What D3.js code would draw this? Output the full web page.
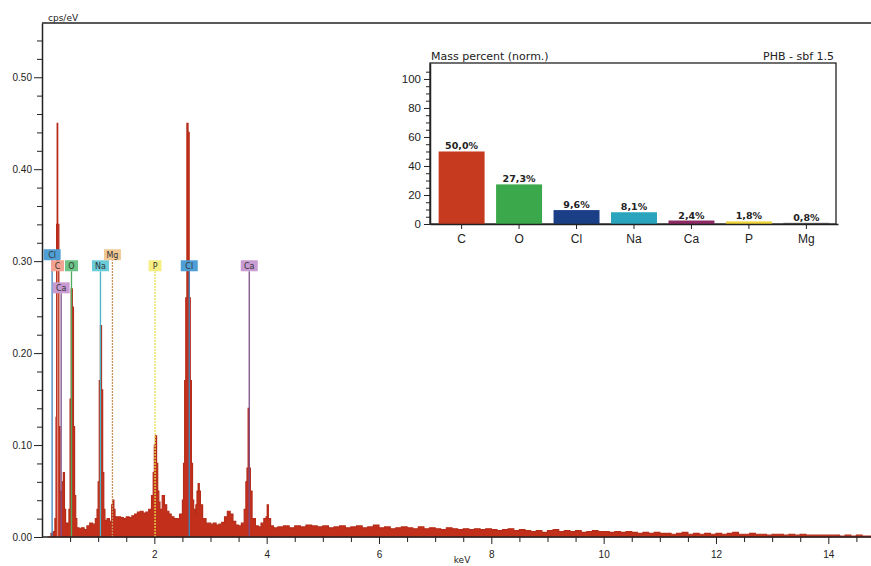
<!DOCTYPE html>
<html>
<head>
<meta charset="utf-8">
<script src="https://cdn.jsdelivr.net/npm/d3@7"></script>
<style>
  body { margin: 0; background: #fff; }
  svg { display: block; font-family: "DejaVu Sans", Verdana, sans-serif; }
  .axis path, .axis line { stroke: #222; }
  .axis text { fill: #222; }
</style>
</head>
<body>
<svg id="chart" width="871" height="566"></svg>
<script>
// spectrum: [keV, cps/eV]
var spectrum = [
  [0.10, 0], [0.16, 0.004], [0.20, 0.006], [0.23, 0.02], [0.25, 0.13], [0.26, 0.34], [0.27, 0.45], [0.28, 0.34],
  [0.30, 0.12], [0.32, 0.05], [0.34, 0.03], [0.36, 0.06], [0.38, 0.07], [0.40, 0.03], [0.42, 0.015],
  [0.44, 0.012], [0.46, 0.015], [0.48, 0.03], [0.50, 0.15], [0.52, 0.27], [0.54, 0.25], [0.56, 0.12],
  [0.58, 0.045], [0.60, 0.02], [0.62, 0.01], [0.66, 0.009], [0.70, 0.01], [0.75, 0.008], [0.80, 0.012],
  [0.85, 0.015], [0.90, 0.014], [0.95, 0.02], [0.98, 0.03], [1.00, 0.06], [1.02, 0.17], [1.04, 0.23],
  [1.06, 0.16], [1.08, 0.07], [1.10, 0.03], [1.12, 0.018], [1.16, 0.02], [1.20, 0.017], [1.24, 0.035],
  [1.26, 0.04], [1.28, 0.03], [1.30, 0.022], [1.35, 0.022], [1.40, 0.021], [1.45, 0.02], [1.50, 0.022],
  [1.55, 0.021], [1.60, 0.023], [1.65, 0.025], [1.70, 0.027], [1.75, 0.028], [1.80, 0.026], [1.85, 0.027],
  [1.90, 0.03], [1.95, 0.045], [1.98, 0.07], [2.00, 0.10], [2.02, 0.11], [2.04, 0.08], [2.06, 0.05],
  [2.08, 0.038], [2.10, 0.03], [2.14, 0.045], [2.18, 0.035], [2.22, 0.028], [2.26, 0.025], [2.30, 0.022],
  [2.35, 0.02], [2.40, 0.02], [2.45, 0.025], [2.50, 0.04], [2.52, 0.08], [2.54, 0.17], [2.56, 0.26],
  [2.58, 0.45], [2.60, 0.44], [2.62, 0.26], [2.64, 0.17], [2.66, 0.08], [2.68, 0.04], [2.70, 0.03],
  [2.72, 0.025], [2.74, 0.035], [2.76, 0.05], [2.78, 0.058], [2.80, 0.05], [2.82, 0.035], [2.86, 0.02],
  [2.92, 0.015], [3.00, 0.014], [3.05, 0.015], [3.10, 0.013], [3.15, 0.014], [3.20, 0.016], [3.25, 0.022],
  [3.30, 0.028], [3.35, 0.025], [3.40, 0.017], [3.45, 0.013], [3.50, 0.012], [3.55, 0.015], [3.60, 0.03],
  [3.63, 0.06], [3.65, 0.075], [3.67, 0.14], [3.69, 0.075], [3.71, 0.05], [3.74, 0.02], [3.80, 0.012],
  [3.85, 0.011], [3.90, 0.015], [3.95, 0.02], [3.99, 0.022], [4.01, 0.035], [4.03, 0.02], [4.07, 0.012],
  [4.12, 0.01], [4.2, 0.011], [4.3, 0.012], [4.4, 0.010], [4.5, 0.012], [4.6, 0.011], [4.7, 0.013],
  [4.8, 0.012], [4.9, 0.011], [5.0, 0.012], [5.1, 0.010], [5.2, 0.011], [5.3, 0.012], [5.4, 0.010],
  [5.5, 0.011], [5.6, 0.012], [5.7, 0.010], [5.8, 0.011], [5.9, 0.013], [6.0, 0.010], [6.1, 0.011],
  [6.2, 0.009], [6.3, 0.010], [6.4, 0.011], [6.5, 0.010], [6.6, 0.009], [6.7, 0.011], [6.8, 0.009],
  [6.9, 0.010], [7.0, 0.009], [7.1, 0.008], [7.2, 0.010], [7.3, 0.009], [7.4, 0.008], [7.5, 0.009],
  [7.6, 0.008], [7.7, 0.009], [7.8, 0.008], [7.9, 0.009], [8.0, 0.008], [8.1, 0.007], [8.2, 0.008],
  [8.3, 0.009], [8.4, 0.007], [8.5, 0.008], [8.6, 0.007], [8.7, 0.006], [8.8, 0.007], [8.9, 0.005],
  [9.0, 0.007], [9.1, 0.008], [9.2, 0.006], [9.3, 0.007], [9.4, 0.006], [9.5, 0.007], [9.6, 0.005],
  [9.7, 0.006], [9.8, 0.007], [9.9, 0.006], [10.0, 0.006], [10.1, 0.005], [10.2, 0.006], [10.3, 0.005],
  [10.4, 0.006], [10.5, 0.005], [10.6, 0.004], [10.7, 0.005], [10.8, 0.004], [10.9, 0.005], [11.0, 0.004],
  [11.1, 0.004], [11.2, 0.003], [11.3, 0.004], [11.4, 0.005], [11.5, 0.003], [11.6, 0.004], [11.7, 0.003],
  [11.8, 0.004], [11.9, 0.003], [12.0, 0.004], [12.1, 0.003], [12.2, 0.004], [12.3, 0.005], [12.4, 0.003],
  [12.5, 0.003], [12.6, 0.004], [12.7, 0.003], [12.8, 0.003], [12.9, 0.002], [13.0, 0.003], [13.1, 0.003],
  [13.2, 0.002], [13.3, 0.003], [13.4, 0.002], [13.5, 0.003], [13.6, 0.002], [13.7, 0.002], [13.8, 0.002],
  [13.9, 0.002], [14.0, 0.002], [14.1, 0.002], [14.2, 0.001], [14.3, 0.002], [14.4, 0.001], [14.5, 0.002],
  [14.6, 0.001], [14.7, 0.001], [14.8, 0.001], [14.9, 0.001]
];

// element line markers
var markerNames = ["Cl", "C", "Ca", "O", "Na", "Mg", "P", "Cl", "Ca"];
var markerKeV = [0.18, 0.277, 0.341, 0.525, 1.041, 1.254, 2.013, 2.622, 3.69];
var markerLabelCps = [0.301, 0.289, 0.265, 0.289, 0.289, 0.301, 0.289, 0.289, 0.289];

// inset: mass percent
var massElements = ["C", "O", "Cl", "Na", "Ca", "P", "Mg"];
var massPercent = [50.0, 27.3, 9.6, 8.1, 2.4, 1.8, 0.8];

var xTicks = [2, 4, 6, 8, 10, 12, 14];
var yTicks = [0, 0.1, 0.2, 0.3, 0.4, 0.5];

var elementColor = { C: "#f2a391", O: "#6cc487", Cl: "#4f9fd6", Ca: "#c99bd3", Na: "#6acbd9", Mg: "#f2c995", P: "#f6ee82" };
var lineColor = { C: "#e08a7a", O: "#4faa5c", Cl: "#3f86c0", Ca: "#7e4f8a", Na: "#48b4c6", Mg: "#c9925a", P: "#e8de4a" };
var barColor = { C: "#c63a1f", O: "#3aa84b", Cl: "#1b3f86", Na: "#2aa4bd", Ca: "#8c2a63", P: "#f0d43a", Mg: "#555" };

var svg = d3.select("#chart");

var x = d3.scaleLinear().domain([0, 14.76]).range([42, 871]);
var y = d3.scaleLinear().domain([0, 0.559]).range([537, 23]);

// spectrum
var area = d3.area()
    .curve(d3.curveStepAfter)
    .x(d => x(d[0]))
    .y0(y(0))
    .y1(d => y(d[1]));

svg.append("path")
    .datum(spectrum)
    .attr("d", area)
    .attr("fill", "#c2301c")
    .attr("stroke", "#b52c19")
    .attr("stroke-width", 1.2)
    .attr("stroke-linejoin", "miter");

// marker lines + labels
var markers = markerNames.map((n, i) => ({ name: n, keV: markerKeV[i], cps: markerLabelCps[i] }));

svg.selectAll(".marker")
  .data(markers)
  .enter().append("line")
    .attr("class", "marker")
    .attr("x1", d => x(d.keV)).attr("x2", d => x(d.keV))
    .attr("y1", y(0)).attr("y2", d => y(d.cps))
    .attr("stroke", d => lineColor[d.name])
    .attr("stroke-width", 1.3)
    .attr("stroke-dasharray", d => (d.name == "Mg" || d.name == "P") ? "2,1" : null);

var tag = svg.selectAll(".tag")
  .data(markers)
  .enter().append("g")
    .attr("class", "tag")
    .attr("transform", d => "translate(" + x(d.keV) + "," + y(d.cps) + ")");

tag.append("rect")
    .attr("x", d => d.name.length > 1 ? -8.5 : -6.5)
    .attr("y", -11)
    .attr("width", d => d.name.length > 1 ? 17 : 13)
    .attr("height", 11)
    .attr("fill", d => elementColor[d.name]);

tag.append("text")
    .attr("y", -2.5)
    .attr("text-anchor", "middle")
    .style("font-size", "8px")
    .attr("fill", "#333")
    .text(d => d.name);

// axes
var xAxis = svg.append("g")
    .attr("class", "axis")
    .attr("transform", "translate(0," + y(0) + ")")
    .call(d3.axisBottom(x).tickValues(xTicks).tickFormat(d3.format("d")).tickSize(7).tickSizeOuter(0));
xAxis.select(".domain").attr("d", "M" + x(0) + ",0H871").attr("stroke-width", 1.5);
xAxis.selectAll("text").style("font-size", "10px").attr("dy", "1.1em");

svg.append("g")
    .attr("class", "axis")
    .attr("transform", "translate(0," + y(0) + ")")
    .call(d3.axisBottom(x).tickValues(d3.range(0.5, 14.76, 0.5).filter(v => v % 2 != 0)).tickSize(5).tickFormat(""))
    .select(".domain").remove();

var yAxis = svg.append("g")
    .attr("class", "axis")
    .attr("transform", "translate(" + x(0) + ",0)")
    .call(d3.axisLeft(y).tickValues(yTicks).tickFormat(d3.format(".2f")).tickSize(8).tickSizeOuter(0));
yAxis.select(".domain").attr("stroke-width", 1.5);
yAxis.selectAll("text").style("font-size", "10px").attr("x", -10);

svg.append("g")
    .attr("class", "axis")
    .attr("transform", "translate(" + x(0) + ",0)")
    .call(d3.axisLeft(y).tickValues(d3.range(0.02, 0.555, 0.02).filter(v => Math.round(v * 100) % 10 != 0)).tickSize(5).tickFormat(""))
    .select(".domain").remove();

svg.append("line")
    .attr("x1", x(0)).attr("x2", 871)
    .attr("y1", y(0.559)).attr("y2", y(0.559))
    .attr("stroke", "#222").attr("stroke-width", 1.5);

svg.append("text")
    .attr("x", 48).attr("y", 21)
    .style("font-size", "9px").attr("fill", "#222")
    .text("cps/eV");

svg.append("text")
    .attr("x", 462).attr("y", 563)
    .attr("text-anchor", "middle")
    .style("font-size", "9px").attr("fill", "#222")
    .text("keV");

// inset bar chart
var bx = d3.scaleBand().domain(massElements).range([430, 838]).paddingInner(0.2).paddingOuter(0.15);
var by = d3.scaleLinear().domain([0, 111]).range([224, 63]);

var inset = svg.append("g");

inset.append("rect")
    .attr("x", 430).attr("y", by(111))
    .attr("width", 406).attr("height", by(0) - by(111))
    .attr("fill", "#fff")
    .attr("stroke", "#222").attr("stroke-width", 1.3);

inset.selectAll(".bar")
  .data(massElements)
  .enter().append("rect")
    .attr("class", "bar")
    .attr("x", d => bx(d))
    .attr("width", bx.bandwidth())
    .attr("y", (d, i) => by(massPercent[i]))
    .attr("height", (d, i) => by(0) - by(massPercent[i]))
    .attr("fill", d => barColor[d]);

inset.selectAll(".val")
  .data(massElements)
  .enter().append("text")
    .attr("class", "val")
    .attr("x", d => bx(d) + bx.bandwidth() / 2)
    .attr("y", (d, i) => by(massPercent[i]) - 2)
    .attr("text-anchor", "middle")
    .style("font-size", "9.5px").style("font-weight", "bold")
    .attr("fill", "#222")
    .text((d, i) => massPercent[i].toFixed(1).replace(".", ",") + "%");

var iy = inset.append("g")
    .attr("class", "axis")
    .attr("transform", "translate(430,0)")
    .call(d3.axisLeft(by).tickValues([0, 20, 40, 60, 80, 100]).tickSize(6).tickSizeOuter(0));
iy.select(".domain").attr("stroke-width", 1.5);
iy.selectAll("text").style("font-size", "11.5px").attr("x", -9);

inset.append("g")
    .attr("class", "axis")
    .attr("transform", "translate(430,0)")
    .call(d3.axisLeft(by).tickValues(d3.range(5, 110, 5).filter(v => v % 20 != 0)).tickSize(4).tickFormat(""))
    .select(".domain").remove();

var ix = inset.append("g")
    .attr("class", "axis")
    .attr("transform", "translate(0," + by(0) + ")")
    .call(d3.axisBottom(bx).tickSize(5).tickSizeOuter(0));
ix.select(".domain").attr("stroke-width", 1.5);
ix.selectAll("text").style("font-size", "12px").attr("dy", "0.9em");

inset.append("text")
    .attr("x", 431).attr("y", 60)
    .style("font-size", "11px").attr("fill", "#222")
    .text("Mass percent (norm.)");

inset.append("text")
    .attr("x", 834).attr("y", 60)
    .attr("text-anchor", "end")
    .style("font-size", "11px").attr("fill", "#222")
    .text("PHB - sbf 1.5");
</script>
</body>
</html>
